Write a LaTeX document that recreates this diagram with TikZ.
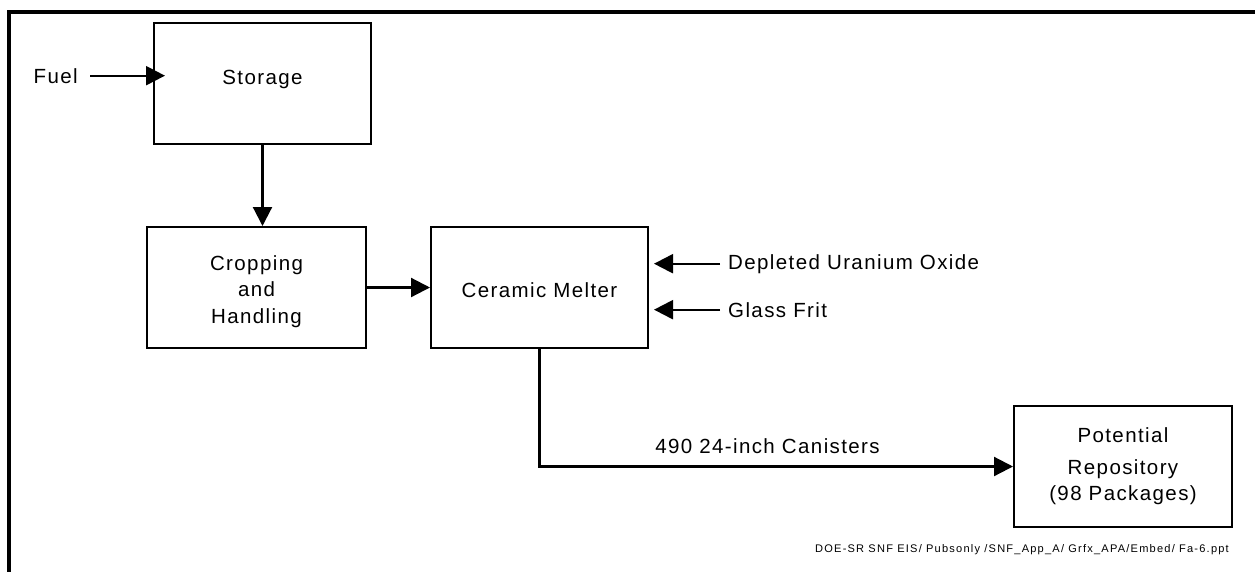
\documentclass[tikz,border=0pt]{standalone}
\usepackage{fontspec}
\setmainfont{Liberation Sans}[LetterSpace=6.8]
\usetikzlibrary{arrows.meta}
\tikzset{
  box/.style={draw, line width=2pt, rectangle, inner sep=0pt, minimum width=217pt, minimum height=121pt, align=center, font=\fontsize{20.5}{26.5}\selectfont},
  lbl/.style={inner sep=0pt, font=\fontsize{20.5}{26.5}\selectfont},
  arr/.style={line width=2.2pt, -{Triangle[length=19pt 0 0,width=19pt 0 0]}},
}
\begin{document}
\begin{tikzpicture}[x=1pt,y=-1pt]
\useasboundingbox (0,0) rectangle (1255,571);
\draw[line width=4pt] (9.3,575) -- (9.3,12) -- (1260,12);
\node[box, text depth=12pt] (storage) at (262.5,83.5) {Storage};
\node[box, minimum width=219pt] (cropping) at (256.5,287.5) {\rule{0pt}{22.4pt}Cropping\\and\\Handling};
\node[box, text height=21pt] (melter) at (539.5,287.5) {Ceramic Melter};
\node[box, minimum width=218pt] (repo) at (1123,466.5) {Potential\\[5pt]Repository\\(98 Packages)};
\node[lbl, anchor=base east] (fuel) at (78,83) {Fuel};
\node[lbl, anchor=base west] (duo) at (728,269) {Depleted Uranium Oxide};
\node[lbl, anchor=base west] (frit) at (728,317) {Glass Frit};
\node[lbl, anchor=base] (can) at (767.5,453) {490 24-inch Canisters};
\node[inner sep=0pt, anchor=base east, font=\fontsize{11.05}{12}\selectfont\addfontfeatures{LetterSpace=11}] (foot) at (1229,552) {DOE-SR SNF EIS/ Pubsonly /SNF\_App\_A/ Grfx\_APA/Embed/ Fa-6.ppt};
\draw[arr] ([xshift=12pt]fuel.east) -- ([xshift=12pt]fuel.east -| storage.west);
\draw[arr] (storage.south) -- (storage.south |- cropping.north);
\draw[arr] (melter.west -| cropping.east) -- (melter.west);
\draw[arr, shorten >=5pt] ([xshift=-8pt]duo.west) -- (duo.west -| melter.east);
\draw[arr, shorten >=5pt] ([xshift=-8pt]frit.west) -- (frit.west -| melter.east);
\draw[arr] (melter.south) |- (repo.west);
\end{tikzpicture}
\end{document}
